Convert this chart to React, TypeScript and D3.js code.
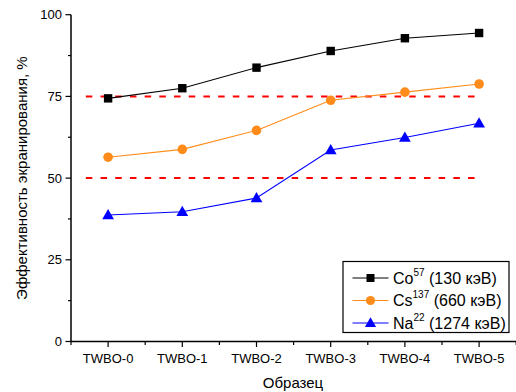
import React from "react";
import * as d3 from "d3";

const categories = ["TWBO-0", "TWBO-1", "TWBO-2", "TWBO-3", "TWBO-4", "TWBO-5"];
const coValues = [74.4, 77.5, 83.8, 88.9, 92.8, 94.4];
const csValues = [56.4, 58.8, 64.6, 73.8, 76.3, 78.8];
const naValues = [38.7, 39.7, 43.9, 58.6, 62.4, 66.8];
const yTicks = [0, 25, 50, 75, 100];
const yMinorTicks = [12.5, 37.5, 62.5, 87.5];
const refLines = [75, 50];

const W = 516;
const H = 392;
const FONT = "'Liberation Sans', Arial, sans-serif";

export default function App() {
  const x = d3.scaleLinear().domain([-0.5, 5.5]).range([71, 516.2]);
  const y = d3.scaleLinear().domain([0, 100]).range([341.5, 14.7]);
  const line = d3
    .line<number>()
    .x((_, i) => x(i))
    .y((d) => y(d));

  const series = [
    { name: "Co", sup: "57", rest: " (130 кэВ)", values: coValues, color: "#000000", marker: "square" },
    { name: "Cs", sup: "137", rest: " (660 кэВ)", values: csValues, color: "#FF8C1A", marker: "circle" },
    { name: "Na", sup: "22", rest: " (1274 кэВ)", values: naValues, color: "#0000FF", marker: "triangle" },
  ];

  const marker = (type: string, cx: number, cy: number, color: string, key: any, s = 1) => {
    if (type === "square") {
      const h = 4.2 * s;
      return <rect key={key} x={cx - h} y={cy - h} width={2 * h} height={2 * h} fill={color} />;
    }
    if (type === "circle") {
      return <circle key={key} cx={cx} cy={cy} r={4.8 * s} fill={color} />;
    }
    const sym = d3.symbol(d3.symbolTriangle, 60 * s * s)();
    return <path key={key} d={sym || ""} transform={`translate(${cx},${cy + 0.8})`} fill={color} />;
  };

  const xMinor = d3.range(-0.5, 5.6, 1);

  return (
    <svg
      width={W}
      height={H}
      style={{ position: "absolute", left: 0, top: 0, background: "#fff" }}
      fontFamily={FONT}
    >
      {refLines.map((v) => (
        <line
          key={v}
          x1={x(-0.3)}
          x2={x(5)}
          y1={y(v)}
          y2={y(v)}
          stroke="#FF0000"
          strokeWidth={2}
          strokeDasharray="6.5 8.2"
        />
      ))}

      {series.map((s) => (
        <path key={s.name} d={line(s.values) || ""} fill="none" stroke={s.color} strokeWidth={1.1} />
      ))}
      {series.map((s) => s.values.map((v, i) => marker(s.marker, x(i), y(v), s.color, s.name + i)))}

      <line x1={71} x2={71} y1={y(100)} y2={y(0) + 0.5} stroke="#000" strokeWidth={1.5} />
      <line x1={70.3} x2={W} y1={y(0)} y2={y(0)} stroke="#000" strokeWidth={1.5} />
      {yTicks.map((t) => (
        <g key={t}>
          <line x1={65.5} x2={71} y1={y(t)} y2={y(t)} stroke="#000" strokeWidth={1.2} />
          <text x={62} y={y(t)} dy="0.36em" textAnchor="end" fontSize={13} fill="#000">
            {t}
          </text>
        </g>
      ))}
      {yMinorTicks.map((t) => (
        <line key={t} x1={68} x2={71} y1={y(t)} y2={y(t)} stroke="#000" strokeWidth={1.2} />
      ))}
      {categories.map((c, i) => (
        <g key={c}>
          <line x1={x(i)} x2={x(i)} y1={y(0)} y2={y(0) + 5.5} stroke="#000" strokeWidth={1.2} />
          <text x={x(i)} y={363} textAnchor="middle" fontSize={13} fill="#000">
            {c}
          </text>
        </g>
      ))}
      {xMinor.map((t) => (
        <line key={t} x1={x(t)} x2={x(t)} y1={y(0)} y2={y(0) + 3.5} stroke="#000" strokeWidth={1.2} />
      ))}

      <text x={293} y={388} textAnchor="middle" fontSize={15} fill="#000">
        Образец
      </text>
      <text
        transform={`translate(27,${(y(0) + y(100)) / 2}) rotate(-90)`}
        textAnchor="middle"
        fontSize={15}
        fill="#000"
      >
        Эффективность экранирования, %
      </text>

      <rect x={343} y={261.5} width={166} height={71} fill="#fff" stroke="#000" strokeWidth={1.2} />
      {series.map((s, i) => {
        const ly = 278 + i * 22.5;
        return (
          <g key={s.name}>
            <line x1={352.5} x2={388.5} y1={ly} y2={ly} stroke={s.color} strokeWidth={1.1} />
            {marker(s.marker, 370.5, ly, s.color, "lm" + i, 0.95)}
            <text x={393} y={ly} dy="0.36em" fontSize={16} fill="#000">
              {s.name}
              <tspan fontSize={10} dy="-0.8em">{s.sup}</tspan>
              <tspan dy="0.5em">{s.rest}</tspan>
            </text>
          </g>
        );
      })}
    </svg>
  );
}
